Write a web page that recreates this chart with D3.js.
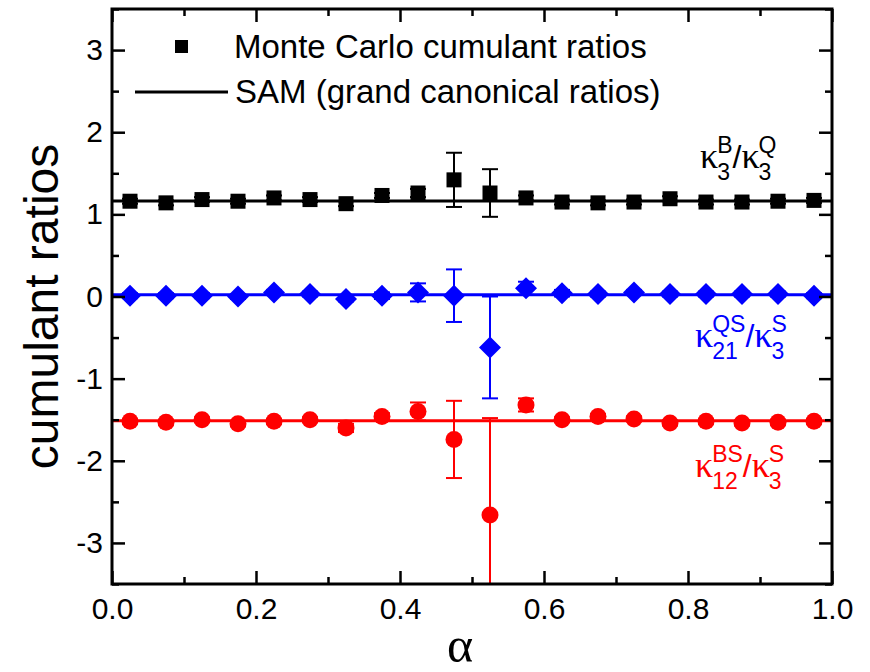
<!DOCTYPE html>
<html>
<head>
<meta charset="utf-8">
<script src="https://cdn.jsdelivr.net/npm/d3@7"></script>
<style>
  html, body { margin: 0; padding: 0; background: #fff; }
  svg { display: block; font-family: "Liberation Sans", Arial, sans-serif; }
</style>
</head>
<body>
<div id="chart"></div>
<script>
// alpha values of the Monte Carlo points
const alpha = [0.025, 0.075, 0.125, 0.175, 0.225, 0.275, 0.325, 0.375, 0.425, 0.475,
               0.525, 0.575, 0.625, 0.675, 0.725, 0.775, 0.825, 0.875, 0.925, 0.975];

// kappa3^B / kappa3^Q (black squares)
const ratioBQ = [1.16, 1.14, 1.18, 1.16, 1.20, 1.18, 1.13, 1.23, 1.26, 1.42,
                 1.26, 1.20, 1.15, 1.14, 1.15, 1.19, 1.15, 1.15, 1.16, 1.17];
const errBQ = [0.03, 0.03, 0.03, 0.03, 0.03, 0.03, 0.03, 0.03, 0.05, 0.33,
               0.29, 0.03, 0.03, 0.03, 0.03, 0.03, 0.03, 0.03, 0.03, 0.03];

// kappa21^QS / kappa3^S (blue diamonds)
const ratioQS = [0.01, 0.01, 0.01, 0.00, 0.05, 0.03, -0.03, 0.01, 0.05, 0.01,
                 -0.62, 0.10, 0.04, 0.03, 0.05, 0.03, 0.03, 0.03, 0.03, 0.01];
const errQS = [0.03, 0.03, 0.03, 0.03, 0.03, 0.03, 0.03, 0.04, 0.11, 0.32,
               0.62, 0.08, 0.04, 0.03, 0.03, 0.03, 0.03, 0.03, 0.03, 0.03];

// kappa12^BS / kappa3^S (red circles)
const ratioBS = [-1.52, -1.53, -1.50, -1.55, -1.52, -1.50, -1.60, -1.46, -1.40, -1.74,
                 -2.66, -1.32, -1.50, -1.46, -1.49, -1.54, -1.52, -1.54, -1.53, -1.52];
const errBS = [0.03, 0.03, 0.03, 0.03, 0.03, 0.03, 0.05, 0.04, 0.11, 0.47,
               1.18, 0.08, 0.03, 0.03, 0.03, 0.03, 0.03, 0.03, 0.03, 0.03];

// SAM grand canonical ratios (horizontal lines)
const samBQ = 1.163;
const samQS = 0.02;
const samBS = -1.512;

const xMajor = [0, 0.2, 0.4, 0.6, 0.8, 1.0];
const xMinor = [0.1, 0.3, 0.5, 0.7, 0.9];
const yMajor = [-3, -2, -1, 0, 1, 2, 3];
const yMinor = [-3.5, -2.5, -1.5, -0.5, 0.5, 1.5, 2.5, 3.5];

const W = 870, H = 672;
const margin = { top: 9, right: 38, bottom: 88, left: 112 };

const svg = d3.select("#chart").append("svg")
  .attr("width", W).attr("height", H);

const x = d3.scaleLinear().domain([0, 1]).range([margin.left, W - margin.right]);
const y = d3.scaleLinear().domain([-3.5, 3.5]).range([H - margin.bottom, margin.top]);

svg.append("defs").append("clipPath").attr("id", "plotclip")
  .append("rect")
  .attr("x", x(0)).attr("y", y(3.5))
  .attr("width", x(1) - x(0)).attr("height", y(-3.5) - y(3.5));

const series = [
  { values: ratioBQ, err: errBQ, sam: samBQ, color: "#000000", shape: "square" },
  { values: ratioQS, err: errQS, sam: samQS, color: "#0000ff", shape: "diamond" },
  { values: ratioBS, err: errBS, sam: samBS, color: "#ff0000", shape: "circle" },
];

const plot = svg.append("g").attr("clip-path", "url(#plotclip)");

// SAM lines
plot.selectAll("line.sam")
  .data(series)
  .join("line")
  .attr("class", "sam")
  .attr("x1", x(0)).attr("x2", x(1))
  .attr("y1", d => y(d.sam)).attr("y2", d => y(d.sam))
  .attr("stroke", d => d.color)
  .attr("stroke-width", 3);

const capW = 8;
series.forEach(s => {
  const pts = alpha.map((a, i) => ({ a: a, v: s.values[i], e: s.err[i] }));
  const g = plot.append("g");

  // error bars
  const eb = g.selectAll("g.err").data(pts).join("g").attr("class", "err")
    .attr("stroke", s.color).attr("stroke-width", 2);
  eb.append("line")
    .attr("x1", d => x(d.a)).attr("x2", d => x(d.a))
    .attr("y1", d => y(d.v + d.e)).attr("y2", d => y(d.v - d.e));
  eb.append("line")
    .attr("x1", d => x(d.a) - capW).attr("x2", d => x(d.a) + capW)
    .attr("y1", d => y(d.v + d.e)).attr("y2", d => y(d.v + d.e));
  eb.append("line")
    .attr("x1", d => x(d.a) - capW).attr("x2", d => x(d.a) + capW)
    .attr("y1", d => y(d.v - d.e)).attr("y2", d => y(d.v - d.e));

  // markers
  if (s.shape == "square") {
    g.selectAll("rect").data(pts).join("rect")
      .attr("x", d => x(d.a) - 7.5).attr("y", d => y(d.v) - 7.5)
      .attr("width", 15).attr("height", 15)
      .attr("fill", s.color);
  } else if (s.shape == "diamond") {
    g.selectAll("path").data(pts).join("path")
      .attr("d", d => {
        const cx = x(d.a), cy = y(d.v), r = 11;
        return `M${cx},${cy - r}L${cx + r},${cy}L${cx},${cy + r}L${cx - r},${cy}Z`;
      })
      .attr("fill", s.color);
  } else {
    g.selectAll("circle").data(pts).join("circle")
      .attr("cx", d => x(d.a)).attr("cy", d => y(d.v)).attr("r", 8.5)
      .attr("fill", s.color);
  }
});

// axes with inward ticks on all four sides
const axisStyle = (g) => {
  g.select(".domain").remove();
  g.selectAll(".tick line").attr("stroke", "#000").attr("stroke-width", 2.5);
  g.selectAll(".tick text").attr("fill", "#000").style("font-size", "30px")
    .style("font-family", "Liberation Sans, Arial, sans-serif");
};

svg.append("g").attr("transform", `translate(0,${y(-3.5)})`)
  .call(d3.axisBottom(x).tickValues(xMajor).tickFormat(d3.format(".1f"))
    .tickSizeInner(-13).tickSizeOuter(0).tickPadding(14))
  .call(axisStyle);
svg.append("g").attr("transform", `translate(0,${y(-3.5)})`)
  .call(d3.axisBottom(x).tickValues(xMinor).tickFormat("").tickSizeInner(-7).tickSizeOuter(0))
  .call(axisStyle);
svg.append("g").attr("transform", `translate(0,${y(3.5)})`)
  .call(d3.axisTop(x).tickValues(xMajor).tickFormat("").tickSizeInner(-13).tickSizeOuter(0))
  .call(axisStyle);
svg.append("g").attr("transform", `translate(0,${y(3.5)})`)
  .call(d3.axisTop(x).tickValues(xMinor).tickFormat("").tickSizeInner(-7).tickSizeOuter(0))
  .call(axisStyle);

// plain hyphen for negative labels, like the original
svg.append("g").attr("transform", `translate(${x(0)},0)`)
  .call(d3.axisLeft(y).tickValues(yMajor).tickFormat(d => String(d))
    .tickSizeInner(-13).tickSizeOuter(0).tickPadding(9))
  .call(axisStyle);
svg.append("g").attr("transform", `translate(${x(0)},0)`)
  .call(d3.axisLeft(y).tickValues(yMinor).tickFormat("").tickSizeInner(-7).tickSizeOuter(0))
  .call(axisStyle);
svg.append("g").attr("transform", `translate(${x(1)},0)`)
  .call(d3.axisRight(y).tickValues(yMajor).tickFormat("").tickSizeInner(-13).tickSizeOuter(0))
  .call(axisStyle);
svg.append("g").attr("transform", `translate(${x(1)},0)`)
  .call(d3.axisRight(y).tickValues(yMinor).tickFormat("").tickSizeInner(-7).tickSizeOuter(0))
  .call(axisStyle);

// frame
svg.append("rect")
  .attr("x", x(0)).attr("y", y(3.5))
  .attr("width", x(1) - x(0)).attr("height", y(-3.5) - y(3.5))
  .attr("fill", "none").attr("stroke", "#000").attr("stroke-width", 3);

// axis titles
svg.append("text")
  .attr("transform", `translate(58,${(y(3.5) + y(-3.5)) / 2 + 10}) rotate(-90)`)
  .attr("text-anchor", "middle")
  .style("font-size", "48px")
  .text("cumulant ratios");

svg.append("text")
  .attr("x", 460).attr("y", 662)
  .attr("text-anchor", "middle")
  .style("font-family", "Liberation Serif, serif")
  .style("font-size", "50px")
  .text("α");

// legend
svg.append("rect")
  .attr("x", 175).attr("y", 40).attr("width", 13).attr("height", 13)
  .attr("fill", "#000");
svg.append("text").attr("x", 234).attr("y", 58).style("font-size", "33px")
  .text("Monte Carlo cumulant ratios");
svg.append("line")
  .attr("x1", 135).attr("x2", 228).attr("y1", 92).attr("y2", 92)
  .attr("stroke", "#000").attr("stroke-width", 3);
svg.append("text").attr("x", 235).attr("y", 103).style("font-size", "33px")
  .text("SAM (grand canonical ratios)");

// kappa ratio labels: kappa_{sub}^{sup} / kappa_{sub}^{sup}
const kappaLabel = (x0, base, parts, color) => {
  const g = svg.append("g").attr("fill", color);
  let cx = x0;
  parts.forEach((p, i) => {
    if (i > 0) {
      const sl = g.append("text").attr("x", cx).attr("y", base).style("font-size", "32px").text("/");
      cx += sl.node().getComputedTextLength();
    }
    const k = g.append("text").attr("x", cx).attr("y", base)
      .style("font-family", "Liberation Serif, serif").style("font-size", "36px").text("κ");
    cx += k.node().getComputedTextLength() - 1;
    const sp = g.append("text").attr("x", cx).attr("y", base - 15).style("font-size", "23px").text(p.sup);
    const sb = g.append("text").attr("x", cx).attr("y", base + 12).style("font-size", "23px").text(p.sub);
    cx += Math.max(sp.node().getComputedTextLength(), sb.node().getComputedTextLength());
  });
};

kappaLabel(700, 168, [{ sub: "3", sup: "B" }, { sub: "3", sup: "Q" }], "#000000");
kappaLabel(695, 347, [{ sub: "21", sup: "QS" }, { sub: "3", sup: "S" }], "#0000ff");
kappaLabel(695, 477, [{ sub: "12", sup: "BS" }, { sub: "3", sup: "S" }], "#ff0000");
</script>
</body>
</html>
